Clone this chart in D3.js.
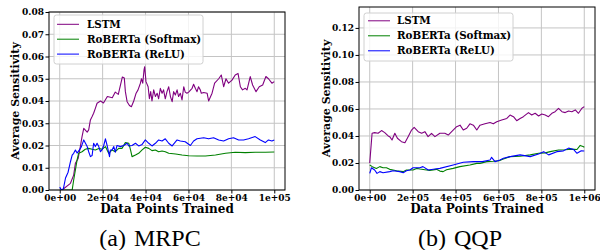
<!DOCTYPE html>
<html>
<head>
<meta charset="utf-8">
<script src="https://cdn.jsdelivr.net/npm/d3@7"></script>
<style>
  html, body { margin: 0; padding: 0; background: #fff; }
  svg { display: block; }
</style>
</head>
<body>
<svg id="chart" width="600" height="250"></svg>
<script>
'use strict';

// points are [data points trained / 1e3, average sensitivity * 1e3]
var MRPC_LSTM = [
  [1.1, 0], [5.0, 3.0], [6.5, 6.7], [7.3, 12], [8.6, 14.2], [9.6, 19.5], [10.4, 24], [11.2, 27.7],
  [12.8, 26], [13.5, 27], [14.3, 31.5], [15.1, 33], [15.8, 34.5], [16.6, 36.7], [17.4, 39], [19.0, 40],
  [20.4, 39.1], [22.2, 42], [24.5, 41.5], [25.9, 44], [27.3, 43], [29.2, 50.8], [30.1, 50.3], [30.6, 44.2],
  [31.4, 39.7], [32.5, 38], [33.4, 37.4], [34.5, 40], [35.6, 43.5], [36.5, 45], [37.6, 48], [38.1, 50],
  [38.7, 48], [39.3, 54], [39.6, 55.4], [40.2, 48.7], [41.2, 46.4], [41.8, 41], [42.4, 44.2], [43.0, 40],
  [43.8, 45], [44.6, 42], [45.4, 43.5], [46.1, 41], [46.9, 45.7], [47.7, 43.5], [48.4, 45], [49.2, 41],
  [50.0, 44.2], [50.8, 46.4], [51.6, 42], [52.4, 39.7], [53.1, 44.2], [53.9, 42.7], [54.7, 45], [55.4, 42],
  [56.2, 43.5], [57.0, 40.5], [57.8, 46.4], [58.5, 44], [59.3, 43.5], [60.1, 44], [61.7, 45.7], [62.4, 47.5],
  [63.2, 45.7], [64.0, 44.2], [64.7, 46.4], [65.5, 45], [66.0, 43.5], [67.1, 43.8], [68.7, 43.5], [69.4, 40],
  [71.0, 43.5], [72.2, 48], [74.1, 50], [75.3, 51.7], [76.4, 46.4], [77.5, 50], [78.7, 48], [80.3, 49.4],
  [81.8, 51.7], [83.1, 52.4], [84.2, 46.4], [85.2, 45], [86.5, 45.7], [87.3, 45], [88.8, 51], [89.9, 47.2],
  [91.5, 44.2], [93.0, 46.4], [94.6, 47.2], [96.1, 51], [97.3, 50], [98.9, 48], [100, 48.7]
];
var MRPC_SOFTMAX = [
  [0, 0], [5.8, 0], [6.5, 4.5], [7.3, 9], [8.1, 13.5], [8.8, 16.5], [10.4, 17.2], [11.9, 18.3],
  [13.5, 18.7], [15.1, 18.3], [16.6, 18], [18.2, 18.7], [19.7, 18.3], [21.3, 19.5], [22.8, 16.5], [24.4, 18],
  [25.9, 17.2], [27.5, 18.7], [29.0, 18.7], [30.6, 21.3], [32.2, 21], [33.0, 18], [33.7, 15], [35.3, 15.7],
  [36.8, 16.5], [38.4, 18], [39.9, 19.2], [41.5, 18.7], [43.0, 17.7], [44.6, 18], [46.1, 17.2], [47.7, 17.5],
  [49.2, 17.2], [50.8, 16.5], [54.0, 16.2], [57.0, 15.7], [60.1, 15.4], [64.0, 15.3], [67.9, 15.3], [72.6, 15.7],
  [77.3, 16.5], [81.8, 17], [86.5, 16.8], [91.1, 17], [95.8, 17], [100, 17.1]
];
var MRPC_RELU = [
  [0, 1.3], [0.8, 0], [1.7, 0.5], [2.7, 5.4], [3.9, 8], [5.0, 12.7], [5.8, 15.7], [6.5, 16.5],
  [7.3, 18], [8.1, 16.6], [9.2, 18], [10.1, 19.5], [11.2, 22.5], [12.0, 21], [12.8, 19.5], [13.5, 17.2],
  [14.3, 15], [15.1, 15.5], [15.8, 21], [16.6, 19.5], [17.4, 21], [18.2, 19.5], [19.0, 17.2], [19.7, 18],
  [20.5, 20], [21.3, 23], [22.1, 20], [23.2, 15], [23.6, 18], [24.4, 18], [25.2, 19.5], [25.9, 17],
  [26.7, 20], [28.3, 19.5], [29.8, 20], [31.4, 21], [32.2, 19.8], [33.7, 20], [35.3, 21], [36.8, 19.8],
  [38.4, 20.5], [39.9, 22.5], [41.5, 21], [43.0, 19.8], [44.6, 21], [46.1, 22.5], [47.7, 22], [49.2, 23],
  [50.8, 21], [52.4, 19.8], [54.7, 22.5], [56.2, 22], [58.5, 21.7], [60.9, 20], [62.4, 22], [64.0, 23],
  [67.1, 23.5], [69.4, 23], [71.7, 23.5], [74.1, 22.5], [76.4, 22], [78.7, 23], [81.0, 23.5], [83.4, 22.5],
  [85.7, 22.5], [88.0, 23], [91.1, 24], [93.5, 22.5], [95.8, 21.3], [97.3, 22.5], [98.9, 22], [100, 22.5]
];

var QQP_LSTM = [
  [0, 20], [11, 42], [23, 42.5], [39, 42], [55, 44], [70, 42.5], [86, 40], [93, 39.5],
  [104, 37], [117, 42], [129, 38.3], [148, 35.8], [164, 35], [179, 39.5], [195, 44.4], [207, 46.4],
  [226, 43.2], [242, 42], [257, 43.2], [272, 39.5], [288, 42], [304, 39.5], [327, 42], [350, 42],
  [366, 40.7], [382, 43.2], [405, 46.9], [421, 48], [436, 44.4], [452, 45.7], [467, 49], [483, 48],
  [499, 44.4], [514, 48], [537, 49], [561, 50], [576, 49], [592, 50.6], [615, 51.8], [639, 53],
  [654, 55.5], [670, 54.3], [685, 51.3], [701, 53], [716, 54.3], [740, 57.3], [755, 55.5], [771, 56.8],
  [787, 54.8], [802, 56.3], [818, 55.5], [833, 54.3], [849, 56.8], [864, 58], [880, 60.5], [896, 58],
  [911, 57.3], [927, 58.5], [942, 58], [958, 59.3], [973, 56.8], [989, 60.5], [1000, 61.7]
];
var QQP_SOFTMAX = [
  [0, 18.5], [12, 17.3], [31, 16], [47, 17.3], [62, 16.5], [78, 16.5], [93, 15.3], [109, 14.8],
  [125, 14.3], [156, 13.6], [171, 14.8], [202, 14.8], [218, 16], [234, 15.5], [265, 14.8], [280, 14.5],
  [311, 15.3], [327, 14], [342, 13.6], [358, 15], [389, 16], [420, 17.3], [467, 18.5], [499, 19.7],
  [514, 19.7], [545, 21], [576, 21.3], [603, 21.7], [623, 23], [654, 24.7], [701, 25], [748, 26],
  [787, 27.2], [818, 27.5], [841, 28.4], [880, 29.6], [911, 29.8], [942, 30.3], [966, 30], [981, 33],
  [997, 32], [1000, 31.6]
];
var QQP_RELU = [
  [0, 12.3], [8, 16.5], [23, 14.8], [34, 12.3], [47, 13.6], [62, 12.8], [93, 13.6], [109, 14.3],
  [140, 13.6], [156, 12.8], [171, 14.3], [187, 14.8], [202, 16.5], [234, 16.5], [248, 17.3], [273, 14.8],
  [304, 15.5], [327, 16], [389, 18.5], [436, 20.5], [483, 21], [525, 21], [561, 22.2], [568, 24.2],
  [584, 21], [607, 22.2], [623, 23.5], [654, 24.7], [701, 26], [748, 24.7], [787, 26.7], [811, 28.4],
  [834, 26], [872, 28.4], [903, 29], [927, 31], [950, 30], [966, 27.2], [986, 29], [1000, 28.9]
];

var SERIES_NAMES = ['LSTM', 'RoBERTa (Softmax)', 'RoBERTa (ReLU)'];
var SERIES_COLORS = ['#800080', '#008000', '#0000ff'];

var MRPC_X_TICKS = [0, 2e4, 4e4, 6e4, 8e4, 1e5];
var MRPC_Y_TICKS = [0, 0.01, 0.02, 0.03, 0.04, 0.05, 0.06, 0.07, 0.08];
var QQP_X_TICKS = [0, 2e5, 4e5, 6e5, 8e5, 1e6];
var QQP_Y_TICKS = [0, 0.02, 0.04, 0.06, 0.08, 0.10, 0.12];

var SERIF_BOLD = '"DejaVu Serif", serif';
var CAPTION_FONT = '"Liberation Serif", "Times New Roman", serif';

var PANELS = [
  {
    id: 'mrpc', caption: '(a) MRPC', captionX: 150,
    left: 49, right: 285, top: 12, bottom: 190,
    xMax: 1e5, yMax: 0.08, xTicks: MRPC_X_TICKS, yTicks: MRPC_Y_TICKS,
    series: [MRPC_LSTM, MRPC_SOFTMAX, MRPC_RELU],
    ylabelX: 18.5,
    legend: { x: 54, y: 15, w: 149, h: 49, lineX: 57, textX: 87, rowY: 24.3, rowGap: 14.9 }
  },
  {
    id: 'qqp', caption: '(b) QQP', captionX: 460,
    left: 359, right: 595, top: 7, bottom: 190,
    xMax: 1e6, yMax: 0.1355, xTicks: QQP_X_TICKS, yTicks: QQP_Y_TICKS,
    series: [QQP_LSTM, QQP_SOFTMAX, QQP_RELU],
    ylabelX: 330,
    legend: { x: 364, y: 13, w: 149, h: 48, lineX: 368, textX: 397, rowY: 20.8, rowGap: 15 }
  }
];

function sciLabel(d) {
  if (d === 0) return '0e+00';
  var e = Math.floor(Math.log10(d) + 1e-9);
  var m = Math.round(d / Math.pow(10, e));
  return m + 'e+' + (e < 10 ? '0' : '') + e;
}

function drawPanel(svg, p) {
  var x = d3.scaleLinear()
    .domain([-p.xMax * 0.05, p.xMax * 1.05])
    .range([p.left, p.right]);
  var y = d3.scaleLinear()
    .domain([0, p.yMax])
    .range([p.bottom, p.top]);

  var g = svg.append('g').attr('class', 'panel-' + p.id);

  // grid
  g.selectAll('line.vgrid').data(p.xTicks).enter().append('line')
    .attr('x1', function (d) { return x(d); })
    .attr('x2', function (d) { return x(d); })
    .attr('y1', p.top).attr('y2', p.bottom)
    .style('stroke', '#c4c4c4').style('stroke-width', 1);
  g.selectAll('line.hgrid').data(p.yTicks).enter().append('line')
    .attr('x1', p.left).attr('x2', p.right)
    .attr('y1', function (d) { return y(d); })
    .attr('y2', function (d) { return y(d); })
    .style('stroke', '#c4c4c4').style('stroke-width', 1);

  svg.append('clipPath').attr('id', 'clip-' + p.id)
    .append('rect')
    .attr('x', p.left).attr('y', p.top)
    .attr('width', p.right - p.left).attr('height', p.bottom - p.top);

  var line = d3.line()
    .x(function (d) { return x(d[0] * 1e3); })
    .y(function (d) { return y(d[1] / 1e3); });

  var lines = g.append('g').attr('clip-path', 'url(#clip-' + p.id + ')');
  p.series.forEach(function (s, i) {
    lines.append('path')
      .datum(s)
      .attr('d', line)
      .style('fill', 'none')
      .style('stroke', SERIES_COLORS[i])
      .style('stroke-width', 1.1)
      .style('stroke-linejoin', 'round');
  });

  // axes
  var xAxis = g.append('g')
    .attr('transform', 'translate(0,' + p.bottom + ')')
    .call(d3.axisBottom(x).tickValues(p.xTicks).tickFormat(sciLabel).tickSize(3.5).tickPadding(1.5));
  var yAxis = g.append('g')
    .attr('transform', 'translate(' + p.left + ',0)')
    .call(d3.axisLeft(y).tickValues(p.yTicks).tickFormat(d3.format('.2f')).tickSize(3.5).tickPadding(1.5));
  [xAxis, yAxis].forEach(function (a) {
    a.select('.domain').remove();
    a.selectAll('line').style('stroke', '#000').style('stroke-width', 1);
    a.selectAll('text')
      .style('font-family', SERIF_BOLD)
      .style('font-weight', 'bold')
      .style('font-size', '9px')
      .style('fill', '#000');
  });

  g.append('rect')
    .attr('x', p.left).attr('y', p.top)
    .attr('width', p.right - p.left).attr('height', p.bottom - p.top)
    .style('fill', 'none').style('stroke', '#000').style('stroke-width', 1);

  // axis titles
  g.append('text')
    .attr('x', (p.left + p.right) / 2)
    .attr('y', 213)
    .attr('text-anchor', 'middle')
    .style('font-family', SERIF_BOLD)
    .style('font-weight', 'bold')
    .style('font-size', '12px')
    .text('Data Points Trained');
  g.append('text')
    .attr('transform', 'translate(' + p.ylabelX + ',' + ((p.top + p.bottom) / 2) + ') rotate(-90)')
    .attr('text-anchor', 'middle')
    .style('font-family', SERIF_BOLD)
    .style('font-weight', 'bold')
    .style('font-size', '11px')
    .text('Average Sensitivity');

  // caption
  g.append('text')
    .attr('x', p.captionX)
    .attr('y', 246)
    .attr('text-anchor', 'middle')
    .style('font-family', CAPTION_FONT)
    .style('font-size', '24px')
    .style('white-space', 'pre')
    .style('word-spacing', '2px')
    .text(p.caption);

  // legend
  var L = p.legend;
  var leg = g.append('g');
  leg.append('rect')
    .attr('x', L.x).attr('y', L.y).attr('width', L.w).attr('height', L.h)
    .attr('rx', 2.5)
    .style('fill', 'rgba(255,255,255,0.8)')
    .style('stroke', '#d0d0d0').style('stroke-width', 1);
  SERIES_NAMES.forEach(function (name, i) {
    var ry = L.rowY + i * L.rowGap;
    leg.append('line')
      .attr('x1', L.lineX).attr('x2', L.lineX + 22)
      .attr('y1', ry).attr('y2', ry)
      .style('stroke', SERIES_COLORS[i]).style('stroke-width', 1);
    leg.append('text')
      .attr('x', L.textX).attr('y', ry + 3.6)
      .style('font-family', SERIF_BOLD)
      .style('font-weight', 'bold')
      .style('font-size', '10.3px')
      .text(name);
  });
}

var svg = d3.select('#chart');
PANELS.forEach(function (p) { drawPanel(svg, p); });
</script>
</body>
</html>
